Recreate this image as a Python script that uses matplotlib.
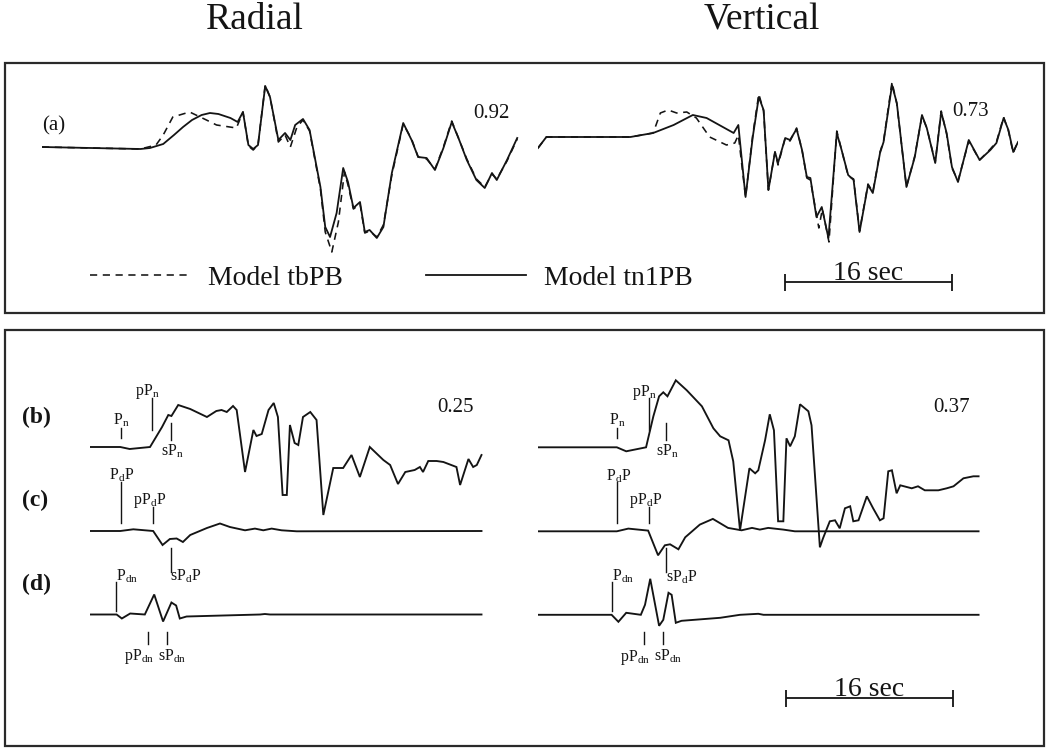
import matplotlib
matplotlib.use("Agg")
import matplotlib.pyplot as plt
from matplotlib.patches import Rectangle

plt.rcParams["font.family"] = ["Liberation Serif", "DejaVu Serif"]
plt.rcParams["mathtext.fontset"] = "custom"
plt.rcParams["mathtext.rm"] = "Liberation Serif"
plt.rcParams["mathtext.it"] = "Liberation Serif:italic"
plt.rcParams["mathtext.bf"] = "Liberation Serif:bold"

# ---------------------------------------------------------------- data
# (a) observed-vs-model comparison, time in s, amplitude in arbitrary units
radial_tn1_t = [0, 9.43, 10.34, 11.61, 12.64, 13.51, 14.37, 15.29, 16.09, 16.90, 18.05, 18.74,
                19.25, 19.77, 20.23, 20.69, 21.38, 21.84, 22.64, 23.28, 23.79, 24.25, 25.0,
                25.63, 26.67, 27.13, 27.59, 28.22, 28.85, 29.31, 29.83, 30.46, 30.92, 31.38,
                32.07, 32.70, 33.51, 34.60, 35.40, 36.03, 36.84, 37.64, 38.45, 39.25, 39.89,
                40.69, 41.61, 42.41, 43.10, 43.56, 44.54, 45.52]
radial_tn1_a = [0, -0.2, -0.1, 0.3, 1.2, 2.0, 2.7, 3.2, 3.4, 3.3, 2.9, 2.5, 3.5, 0.2, -0.2, 0.2,
                6.1, 5.0, 0.7, 1.4, 0.7, 2.2, 2.8, 1.7, -4.0, -8.0, -9.0, -6.6, -2.1, -3.5, -6.1,
                -5.5, -8.5, -8.3, -9.1, -8.0, -2.6, 2.4, 0.7, -1.0, -1.1, -2.3, -0.1, 2.5, 0.9,
                -1.3, -3.3, -4.1, -2.6, -3.3, -1.3, 0.9]

radial_tb_t = [0, 9.43, 10.92, 11.61, 12.53, 14.14, 15.75, 16.72, 18.62, 19.25, 19.77, 20.23,
               20.69, 21.38, 21.84, 22.64, 23.28, 23.79, 24.42, 25.0, 25.63, 26.67, 27.13, 27.76,
               28.39, 28.97, 29.31, 29.83, 30.46, 30.92, 31.38, 32.07, 32.70, 33.51, 34.60,
               35.40, 36.03, 36.84, 37.64, 38.45, 39.25, 39.89, 40.69, 41.61, 42.41, 43.10,
               43.56, 44.54, 45.52]
radial_tb_a = [0, -0.2, 0.2, 1.2, 3.0, 3.5, 2.7, 2.2, 1.9, 3.5, 0.1, -0.3, 0.2, 6.2, 5.0, 0.5,
               1.2, 0.0, 2.0, 2.7, 1.6, -4.2, -8.5, -10.5, -7.5, -2.5, -3.8, -6.2, -5.7, -8.6,
               -8.4, -9.0, -7.8, -2.8, 2.3, 0.8, -1.0, -1.2, -2.2, 0.0, 2.6, 0.9, -1.2, -3.2,
               -4.0, -2.7, -3.2, -1.4, 0.8]

vertical_tn1_t = [0, 0.80, 8.85, 11.03, 12.99, 14.83, 16.15, 18.74, 19.19, 19.88, 20.57, 21.15,
                  21.61, 22.07, 22.70, 22.99, 23.68, 24.14, 24.77, 25.29, 25.75, 26.09, 26.67,
                  27.18, 27.82, 28.62, 29.08, 29.71, 30.23, 30.80, 31.61, 32.07, 32.76, 33.10,
                  33.91, 34.37, 35.29, 36.09, 36.78, 37.24, 38.05, 38.62, 39.14, 39.65, 40.23,
                  41.26, 42.30, 43.33, 43.91, 44.60, 45.06, 45.52, 45.98]
vertical_tn1_a = [-1.1, 0.0, 0.0, 0.4, 1.2, 2.2, 1.9, 0.4, 1.2, -6.0, 0.0, 4.0, 2.7, -5.3, -1.5,
                  -2.6, -0.1, -0.3, 0.8, -1.3, -4.0, -4.1, -8.0, -7.0, -10.1, 0.4, -1.3, -3.8,
                  -4.3, -9.5, -4.8, -5.6, -1.6, -0.5, 5.2, 3.4, -5.0, -2.0, 2.2, 0.9, -2.6, 2.5,
                  0.4, -3.0, -4.5, -0.3, -2.3, -1.3, -0.6, 1.9, 0.7, -1.5, -0.5]

vertical_tb_t = [0, 0.80, 8.85, 11.03, 11.72, 12.47, 13.28, 14.25, 15.17, 16.44, 18.05, 18.85,
                 19.19, 19.88, 20.57, 21.15, 21.61, 22.07, 22.70, 22.99, 23.68, 24.14, 24.77,
                 25.29, 25.75, 26.09, 26.90, 27.24, 27.87, 28.62, 29.08, 29.71, 30.23, 30.80,
                 31.61, 32.07, 32.76, 33.10, 33.91, 34.37, 35.29, 36.09, 36.78, 37.24, 38.05,
                 38.62, 39.14, 39.65, 40.23, 41.26, 42.30, 43.33, 43.91, 44.60, 45.06, 45.52,
                 45.98]
vertical_tb_a = [-1.1, 0.0, 0.0, 0.4, 2.4, 2.7, 2.4, 2.5, 1.9, 0.0, -0.8, -0.6, 0.2, -6.0, 0.2,
                 4.3, 2.6, -5.3, -1.5, -2.8, -0.1, -0.4, 0.9, -1.3, -4.1, -4.3, -9.1, -7.2,
                 -10.5, 0.6, -1.3, -3.9, -4.2, -9.4, -4.7, -5.5, -1.5, -0.4, 5.5, 3.3, -5.0,
                 -1.9, 2.1, 0.9, -2.5, 2.6, 0.3, -3.1, -4.4, -0.4, -2.3, -1.2, -0.5, 2.0, 0.6,
                 -1.6, -0.4]

# (b)-(d) phase contributions
radial_b_t = [0, 2.9, 3.8, 5.75, 6.9, 7.5, 7.8, 8.45, 9.6, 11.2, 12.1, 12.6, 13.1, 13.7, 14.05,
              14.85, 15.65, 15.95, 16.45, 17.1, 17.6, 18.0, 18.45, 18.85, 19.15, 19.6, 19.95,
              20.4, 21.1, 21.7, 22.35, 23.3, 24.25, 25.05, 25.85, 26.8, 28.1, 28.75, 29.5, 30.2,
              31.1, 31.6, 31.9, 32.4, 33.2, 33.85, 35.1, 35.45, 36.25, 36.7, 37.05, 37.5]
radial_b_a = [0, 0, -0.2, 0.0, 2.0, 3.2, 3.1, 4.2, 3.8, 3.0, 3.6, 3.7, 3.5, 4.1, 3.7, -2.5, 1.7,
              1.1, 1.3, 3.7, 4.4, 3.0, -4.8, -4.8, 2.2, 0.4, 0.2, 3.0, 3.5, 2.7, -6.8, -2.1,
              -2.1, -0.8, -3.0, 0.0, -1.3, -1.8, -3.7, -2.5, -2.3, -2.0, -2.5, -1.4, -1.4, -1.5,
              -2.0, -3.8, -1.2, -2.0, -1.8, -0.8]
radial_c_t = [0, 2.9, 4.15, 6.05, 6.95, 7.65, 8.3, 8.9, 9.6, 11.2, 12.45, 13.4, 14.85, 15.8,
              16.6, 17.4, 18.35, 19.8, 37.5]
radial_c_a = [0, 0, 0.17, 0, -1.4, -0.8, -0.75, -1.1, -0.4, 0.3, 0.75, 0.4, 0.07, 0.24, 0.07,
              0.24, 0.07, -0.03, 0]
radial_d_t = [0, 2.55, 3.05, 3.85, 5.25, 6.15, 7.0, 7.8, 8.25, 8.6, 9.25, 12.75, 16.3, 16.75,
              17.25, 37.5]
radial_d_a = [0, 0, -0.4, 0.1, 0, 2.0, -0.7, 1.2, 0.9, -0.4, -0.2, -0.1, 0.0, 0.05, 0.0, 0]

vertical_b_t = [0, 7.55, 8.45, 10.35, 11.05, 11.6, 12.0, 12.4, 13.2, 14.25, 15.7, 16.8, 17.45,
                18.25, 18.7, 19.35, 20.25, 20.8, 21.1, 21.75, 22.2, 22.6, 23.0, 23.5, 23.8,
                24.15, 24.6, 25.1, 25.9, 26.2, 27.0, 27.3, 27.95, 28.45, 28.9, 29.4, 29.9, 30.2,
                30.7, 31.5, 32.1, 32.75, 33.1, 33.55, 33.9, 34.35, 34.7, 35.8, 36.4, 37.05,
                38.35, 39.15, 39.8, 40.75, 41.7, 42.2]
vertical_b_a = [0, 0, -0.4, 0, 3.1, 5.1, 5.5, 5.1, 6.7, 5.7, 4.1, 1.9, 1.1, 0.7, -1.4, -8.3,
                -2.1, -2.6, -2.3, 0.7, 3.3, 1.7, -7.4, -7.4, 0.9, 0.1, 1.1, 4.3, 3.6, 2.2,
                -10.0, -9.1, -7.4, -7.3, -8.1, -6.1, -5.9, -7.4, -7.3, -4.9, -6.1, -7.3, -7.1,
                -2.4, -2.3, -4.6, -3.8, -4.1, -3.9, -4.3, -4.3, -4.1, -3.9, -3.1, -2.9, -2.9]
vertical_c_t = [0, 7.55, 8.65, 10.55, 11.5, 12.15, 12.65, 13.45, 14.1, 15.5, 16.75, 18.2, 19.5,
                20.5, 21.25, 22.05, 23.5, 24.6, 42.2]
vertical_c_a = [0, 0, 0.27, 0.07, -2.4, -1.4, -1.3, -1.8, -0.6, 0.67, 1.24, 0.34, 0.1, 0.34,
                0.17, 0.34, 0.17, 0, 0]
vertical_d_t = [0, 7.05, 7.7, 8.45, 9.85, 10.25, 10.75, 11.6, 12.0, 12.5, 12.8, 13.2, 13.75,
                17.45, 19.35, 21.1, 21.6, 42.2]
vertical_d_a = [0, 0, -0.7, 0.2, 0, 1.0, 3.6, -1.1, -0.5, 2.2, 2.0, -0.8, -0.6, -0.3, 0, 0.1,
                0, 0]

# phase picks (s)
phase_names = [r"P$_\mathrm{n}$", r"pP$_\mathrm{n}$", r"sP$_\mathrm{n}$",
               r"P$_\mathrm{d}$P", r"pP$_\mathrm{d}$P", r"sP$_\mathrm{d}$P",
               r"P$_\mathrm{dn}$", r"pP$_\mathrm{dn}$", r"sP$_\mathrm{dn}$"]
radial_picks = [2.95, 5.9, 7.75, 2.95, 6.0, 7.75, 2.45, 5.6, 7.4]
vertical_picks = [7.55, 10.6, 12.3, 7.6, 10.6, 12.3, 7.05, 10.2, 12.0]

# correlation coefficients: (a) radial, (a) vertical, (b) radial, (b) vertical
correlations = [0.92, 0.73, 0.25, 0.37]

columns = ["Radial", "Vertical"]
model_names = ["Model tbPB", "Model tn1PB"]
row_labels = ["(a)", "(b)", "(c)", "(d)"]
scale_seconds = 16

# ---------------------------------------------------------------- layout
W, H = 1048, 749
PX_PER_S = 10.44
INK = "#141414"
fig = plt.figure(figsize=(W / 100, H / 100), dpi=100)
fig.patch.set_facecolor("white")


def fx(px):
    return px / W


def fy(py):
    return 1 - py / H


def trace_axes(x_left, x_right, y_top, y_bottom, baseline, px_per_unit=10.0):
    ax = fig.add_axes([fx(x_left), fy(y_bottom), (x_right - x_left) / W, (y_bottom - y_top) / H])
    ax.set_xlim(0, (x_right - x_left) / PX_PER_S)
    ax.set_ylim((baseline - y_bottom) / px_per_unit, (baseline - y_top) / px_per_unit)
    ax.axis("off")
    return ax


def scale_bar(ax, t0, level, seconds):
    kw = dict(color=INK, lw=1.3, clip_on=False, solid_capstyle="butt")
    ax.plot([t0, t0 + seconds], [level, level], **kw)
    for t in (t0, t0 + seconds):
        ax.plot([t, t], [level - 0.85, level + 0.85], **kw)
    ax.text(t0 + seconds / 2, level + 0.25, f"{seconds} sec", ha="center", va="baseline",
            fontsize=20, color=INK)


# frames
for (x0, y0, x1, y1) in [(5, 63, 1044, 313), (5, 330, 1044, 746)]:
    fig.add_artist(Rectangle((fx(x0), fy(y1)), (x1 - x0) / W, (y1 - y0) / H,
                             transform=fig.transFigure, fill=False, ec="#2a2a2a", lw=1.6))

# column titles
fig.text(fx(255), fy(20), columns[0], ha="center", va="center", fontsize=27, color=INK)
fig.text(fx(762), fy(20), columns[1], ha="center", va="center", fontsize=27, color=INK)

# ---------------------------------------------------------------- panel (a)
dash = (0, (4.5, 3.5))
ax_ar = trace_axes(42, 522, 63, 313, 147)
ax_av = trace_axes(538, 1018, 63, 313, 137)
h_tb, = ax_ar.plot(radial_tb_t, radial_tb_a, color=INK, lw=1.15, ls=dash, label=model_names[0])
h_tn, = ax_ar.plot(radial_tn1_t, radial_tn1_a, color=INK, lw=1.3, label=model_names[1])
ax_av.plot(vertical_tb_t, vertical_tb_a, color=INK, lw=1.15, ls=dash)
ax_av.plot(vertical_tn1_t, vertical_tn1_a, color=INK, lw=1.3)

fig.text(fx(42), fy(126), row_labels[0], ha="left", va="center", fontsize=15, color=INK)
fig.text(fx(491), fy(114), f"{correlations[0]:.2f}", ha="center", va="center", fontsize=15, color=INK)
fig.text(fx(971), fy(111), f"{correlations[1]:.2f}", ha="center", va="center", fontsize=15, color=INK)

fig.legend(handles=[h_tb, h_tn], loc="center left", bbox_to_anchor=(fx(90), fy(278)),
           ncol=2, frameon=False, fontsize=20, handlelength=3.6, handletextpad=0.65,
           columnspacing=3.0, borderpad=0, borderaxespad=0, labelcolor=INK)

scale_bar(ax_av, (785 - 538) / PX_PER_S, (137 - 282) / 10.0, scale_seconds)

# ---------------------------------------------------------------- panels (b)-(d)
offsets = [0.0, -8.4, -16.75]
ax_br = trace_axes(90, 510, 331, 746, 447)
ax_bv = trace_axes(538, 1000, 331, 746, 447.3)

for ax, traces in [(ax_br, [(radial_b_t, radial_b_a), (radial_c_t, radial_c_a), (radial_d_t, radial_d_a)]),
                   (ax_bv, [(vertical_b_t, vertical_b_a), (vertical_c_t, vertical_c_a),
                            (vertical_d_t, vertical_d_a)])]:
    for off, (t, a) in zip(offsets, traces):
        ax.plot(t, [v + off for v in a], color=INK, lw=1.35, solid_joinstyle="miter")

# tick marks and labels: (trace row, tick from, tick to, label dt, label level, ha, va)
pick_style = [
    (0, 0.9, 1.9, 0.0, 2.25, "center", "baseline"),
    (0, 1.7, 4.9, -0.45, 5.15, "center", "baseline"),
    (0, 0.7, 2.4, 0.1, 0.45, "center", "top"),
    (1, 0.8, 4.9, 0.1, 5.1, "center", "baseline"),
    (1, 0.8, 2.4, -0.3, 2.7, "center", "baseline"),
    (1, -1.7, -4.1, -0.05, -5.0, "left", "baseline"),
    (2, 0.4, 3.3, 0.0, 3.4, "left", "baseline"),
    (2, -1.7, -2.9, -0.9, -3.3, "center", "top"),
    (2, -1.7, -2.9, 0.5, -3.3, "center", "top"),
]
for ax, picks in [(ax_br, radial_picks), (ax_bv, vertical_picks)]:
    for name, t, (row, a0, a1, dt, la, ha, va) in zip(phase_names, picks, pick_style):
        off = offsets[row]
        ax.plot([t, t], [a0 + off, a1 + off], color=INK, lw=1.0, clip_on=False)
        ax.text(t + dt, la + off, name, ha=ha, va=va, fontsize=11.5, color=INK)

for lab, py in zip(row_labels[1:], [417, 500, 584]):
    fig.text(fx(22), fy(py), lab, ha="left", va="center", fontsize=17, fontweight="bold", color=INK)

fig.text(fx(455), fy(408), f"{correlations[2]:.2f}", ha="center", va="center", fontsize=15, color=INK)
fig.text(fx(952), fy(408), f"{correlations[3]:.2f}", ha="center", va="center", fontsize=15, color=INK)

scale_bar(ax_bv, (786 - 538) / PX_PER_S, (447.3 - 698) / 10.0, scale_seconds)

fig.savefig("out.png", dpi=100, facecolor="white")
